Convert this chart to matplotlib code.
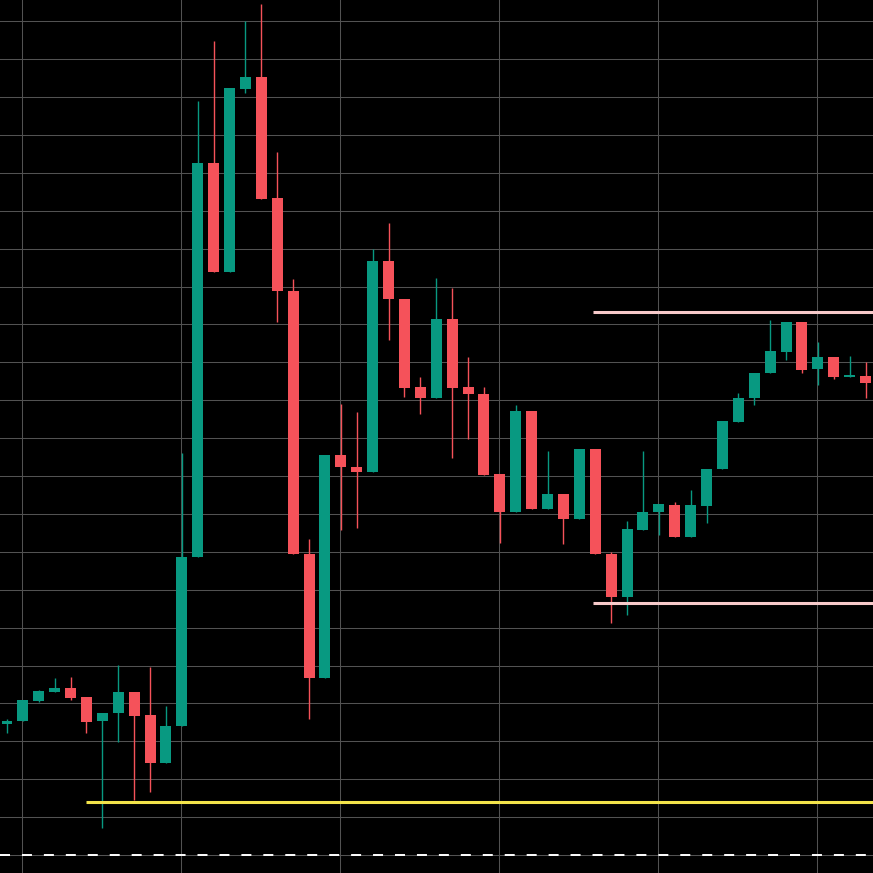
import matplotlib
matplotlib.use("Agg")
import matplotlib.pyplot as plt
import numpy as np

# OHLC values (price units, gridlines every 10)
opens = [134.6, 135.4, 140.6, 143.0, 144.1, 141.7, 135.4, 137.5, 143.0, 136.9,
         124.3, 134.0, 178.6, 282.6, 253.8, 302.1, 305.3, 273.4, 248.8, 179.4,
         146.7, 205.5, 202.4, 201.1, 256.7, 246.7, 223.5, 220.6, 241.4, 223.5,
         221.6, 200.5, 190.5, 217.2, 191.3, 195.3, 188.7, 207.1, 179.4, 168.1,
         185.8, 190.5, 192.3, 183.9, 192.1, 201.8, 214.2, 220.6, 227.2, 232.7,
         240.6, 228.2, 231.4, 226.1, 226.4]
closes = [135.4, 140.9, 143.3, 144.1, 141.4, 135.1, 137.5, 143.0, 136.7, 124.3,
          134.0, 178.6, 282.6, 253.8, 302.4, 305.3, 273.1, 248.8, 179.4, 146.7,
          205.5, 202.4, 201.1, 256.7, 246.7, 223.2, 220.6, 241.4, 223.2, 221.6,
          200.3, 190.5, 217.2, 191.3, 195.3, 188.7, 207.1, 179.4, 168.1, 186.0,
          190.5, 192.6, 183.9, 192.3, 201.8, 214.5, 220.6, 227.2, 233.0, 240.6,
          228.0, 231.4, 226.1, 226.4, 224.5]
highs = [135.9, 141.0, 143.5, 146.7, 147.0, 141.8, 137.5, 150.1, 143.1, 149.6,
         139.3, 206.1, 298.9, 314.8, 302.4, 320.1, 324.5, 285.5, 252.0, 183.4,
         205.5, 219.0, 216.9, 259.9, 266.8, 246.7, 226.1, 252.2, 249.6, 231.4,
         223.5, 200.5, 218.7, 217.2, 206.6, 195.3, 207.1, 207.1, 179.9, 188.1,
         206.6, 192.6, 193.1, 196.3, 201.8, 214.5, 221.9, 227.2, 241.2, 240.6,
         240.6, 235.4, 231.4, 231.7, 230.1]
lows = [132.2, 135.3, 140.5, 142.9, 140.9, 132.2, 107.1, 129.8, 114.5, 116.6,
        124.2, 134.0, 178.6, 253.8, 253.8, 301.1, 273.1, 240.6, 179.4, 135.9,
        146.7, 185.8, 186.3, 201.1, 235.9, 220.8, 216.4, 220.6, 204.7, 209.8,
        200.3, 182.3, 190.5, 191.3, 191.3, 182.1, 188.7, 179.4, 161.2, 163.3,
        185.8, 184.4, 183.9, 183.9, 187.6, 201.8, 214.2, 218.7, 227.2, 230.6,
        227.2, 224.0, 225.6, 226.1, 220.6]

# horizontal levels
support_level = 113.9      # yellow line
range_top = 243.2          # pink upper
range_bottom = 166.4       # pink lower
dashed_level = 100.0       # white dashed
yellow_start = 4.95
pink_start = 36.85

plt.rcParams['lines.scale_dashes'] = False

UP = '#089981'
DOWN = '#F5525A'

fig = plt.figure(figsize=(8.73, 8.73), dpi=100, facecolor='black')
ax = fig.add_axes([0, 0, 1, 1])
ax.set_facecolor('black')

n = len(opens)
x = np.arange(n)
o = np.array(opens); c = np.array(closes); h = np.array(highs); l = np.array(lows)
up = c >= o
colors = np.where(up, UP, DOWN)

# grid
for gx in range(1, n, 10):
    ax.axvline(gx - 0.05, color='#525252', lw=0.75, zorder=0)
for gy in range(100, 330, 10):
    ax.axhline(gy, color='#525252', lw=0.75, zorder=0)

# wicks
ax.vlines(x, l, h, colors=colors, lw=1.0, zorder=2)
# bodies
bottoms = np.minimum(o, c)
heights = np.maximum(np.abs(c - o), 0.45)
ax.bar(x, heights, bottom=bottoms, width=0.69, color=colors, zorder=3, linewidth=0)

xmax = 54.47
ax.hlines(support_level, yellow_start, xmax, colors='#F2E34A', lw=2.2, zorder=4)
ax.hlines([range_top, range_bottom], pink_start, xmax, colors='#F7CACA', lw=2.2, zorder=4)
ax.axhline(dashed_level, color='white', lw=1.4, linestyle=(0, (7.2, 8.6)), zorder=4)

ax.set_xlim(-0.44, xmax)
ax.set_ylim(95.25, 325.6)
ax.axis('off')

fig.savefig('out.png', dpi=100, facecolor='black')
